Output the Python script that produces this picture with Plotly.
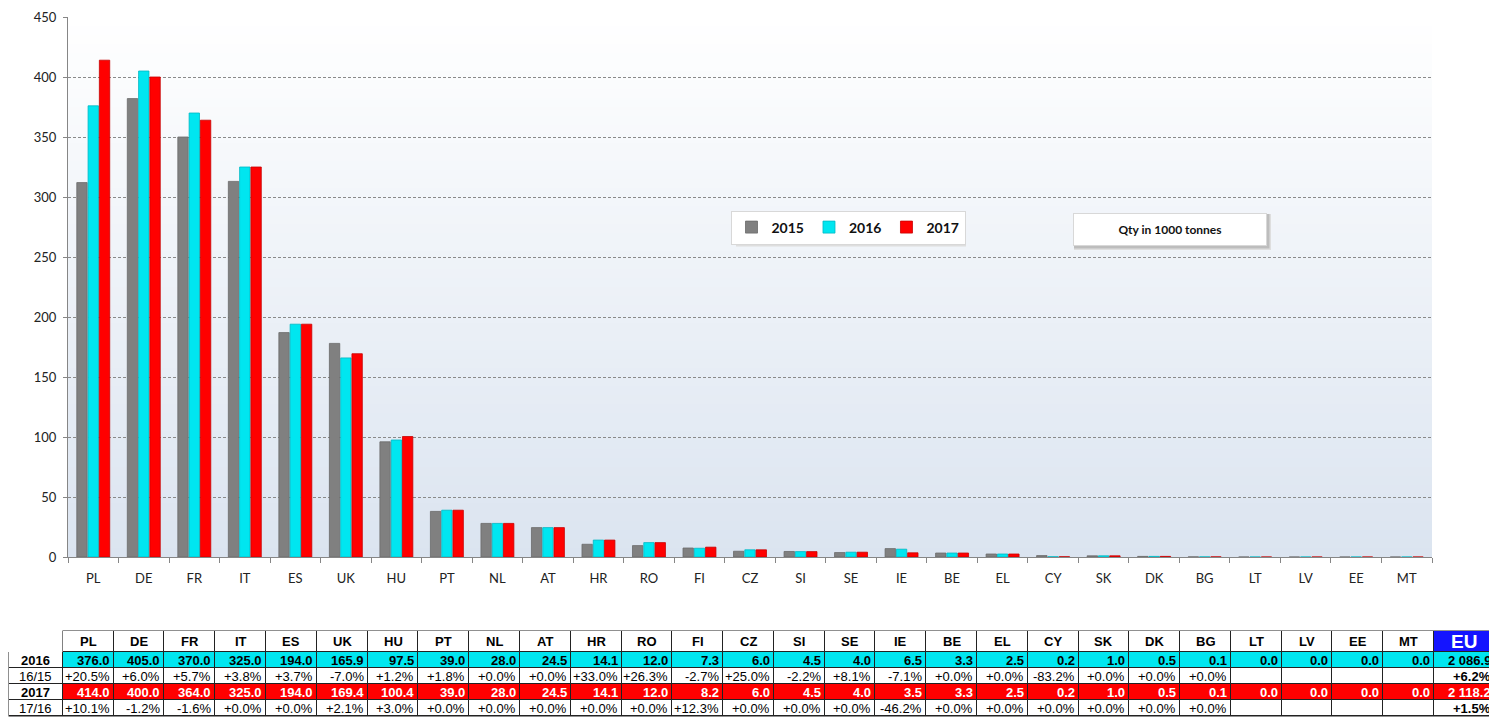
import plotly.graph_objects as go

countries = ["PL", "DE", "FR", "IT", "ES", "UK", "HU", "PT", "NL", "AT", "HR", "RO", "FI", "CZ",
             "SI", "SE", "IE", "BE", "EL", "CY", "SK", "DK", "BG", "LT", "LV", "EE", "MT"]

qty_2015 = [312, 382, 350, 313, 187, 178, 96, 38, 28, 24.5, 10.6, 9.5, 7.5, 4.8,
            4.6, 3.7, 7.0, 3.3, 2.5, 1.2, 1.0, 0.5, 0.1, 0, 0, 0, 0]
qty_2016 = [376.0, 405.0, 370.0, 325.0, 194.0, 165.9, 97.5, 39.0, 28.0, 24.5, 14.1, 12.0, 7.3, 6.0,
            4.5, 4.0, 6.5, 3.3, 2.5, 0.2, 1.0, 0.5, 0.1, 0.0, 0.0, 0.0, 0.0]
qty_2017 = [414.0, 400.0, 364.0, 325.0, 194.0, 169.4, 100.4, 39.0, 28.0, 24.5, 14.1, 12.0, 8.2, 6.0,
            4.5, 4.0, 3.5, 3.3, 2.5, 0.2, 1.0, 0.5, 0.1, 0.0, 0.0, 0.0, 0.0]

chg_16_15 = ["+20.5%", "+6.0%", "+5.7%", "+3.8%", "+3.7%", "-7.0%", "+1.2%", "+1.8%", "+0.0%",
             "+0.0%", "+33.0%", "+26.3%", "-2.7%", "+25.0%", "-2.2%", "+8.1%", "-7.1%", "+0.0%",
             "+0.0%", "-83.2%", "+0.0%", "+0.0%", "+0.0%", "", "", "", ""]
chg_17_16 = ["+10.1%", "-1.2%", "-1.6%", "+0.0%", "+0.0%", "+2.1%", "+3.0%", "+0.0%", "+0.0%",
             "+0.0%", "+0.0%", "+0.0%", "+12.3%", "+0.0%", "+0.0%", "+0.0%", "-46.2%", "+0.0%",
             "+0.0%", "+0.0%", "+0.0%", "+0.0%", "+0.0%", "", "", "", ""]

row_labels = ["2016", "16/15", "2017", "17/16"]
eu_2016 = 2086.9
eu_2017 = 2118.2
eu_16_15 = "+6.2%"
eu_17_16 = "+1.5%"

GRAY = "#808080"
CYAN = "#00e6f0"
RED = "#ff0000"
BLUE = "#1414ff"

# page has an 8px body margin, so the figure is placed at (8, 8) of the window
OFF = 8
FW, FH = 1489, 713


def fx(x):
    return (x - OFF) / FW


def fy(y):
    return 1 - (y - OFF) / FH


def fmt(v):
    return f"{v:,.1f}".replace(",", "\u00a0")


fig = go.Figure()
for name, vals, col, edge in [("2015", qty_2015, GRAY, "#6a6a6a"),
                              ("2016", qty_2016, CYAN, "#00b8c4"),
                              ("2017", qty_2017, RED, "#c80000")]:
    fig.add_trace(go.Bar(x=countries, y=vals, name=name,
                         marker=dict(color=col, line=dict(color=edge, width=0.8))))

# gradient background of the plot area
n = 60
for i in range(n):
    t = (i + 0.5) / n
    r = round(255 - t * (255 - 219))
    g = round(255 - t * (255 - 228))
    b = round(255 - t * (255 - 240))
    fig.add_shape(type="rect", xref="x domain", yref="y domain", x0=0, x1=1,
                  y0=1 - (i + 1) / n, y1=1 - i / n, layer="below",
                  line_width=0, fillcolor=f"rgb({r},{g},{b})")

# soft shadows behind the legend and the note box
for (x0, x1, y0, y1) in [(735, 962, 212.5, 242.5), (1073, 1267, 213, 246)]:
    fig.add_shape(type="rect", xref="paper", yref="paper", x0=fx(x0 + 1), x1=fx(x1 + 4),
                  y0=fy(y1 + 4), y1=fy(y0 + 1), line_width=0, fillcolor="#dedede")
    fig.add_shape(type="rect", xref="paper", yref="paper", x0=fx(x0 + 1), x1=fx(x1 + 2.5),
                  y0=fy(y1 + 2.5), y1=fy(y0 + 1), line_width=0, fillcolor="#bdbdbd")

fig.add_annotation(xref="paper", yref="paper", x=fx(1170), y=fy(229.5),
                   xanchor="center", yanchor="middle",
                   text="<b>Qty in 1000 tonnes</b>", showarrow=False,
                   width=190, height=29, bgcolor="white", bordercolor="#d8d8d8", borderwidth=1,
                   font=dict(family="Lato, Carlito, sans-serif", size=12, color="#111"))

# ---- table below the chart, drawn on its own axes ----
col_w = [54] + [50.85] * len(countries) + [61]
row_h = [21, 16, 16, 16, 16]
x_edges = [0]
for w in col_w:
    x_edges.append(x_edges[-1] + w)
y_edges = [0]
for h in row_h:
    y_edges.append(y_edges[-1] + h)
ncol = len(col_w)

# fill codes: 0 white, 1 cyan, 2 red, 3 blue
z = [[0] * (ncol - 1) + [3],
     [0] + [1] * (ncol - 1),
     [0] * ncol,
     [0] + [2] * (ncol - 1),
     [0] * ncol]
fig.add_trace(go.Heatmap(
    x=x_edges, y=y_edges, z=z, xaxis="x2", yaxis="y2", zmin=0, zmax=3,
    colorscale=[[0, "white"], [1 / 6, "white"], [1 / 6, CYAN], [3 / 6, CYAN],
                [3 / 6, RED], [5 / 6, RED], [5 / 6, BLUE], [1, BLUE]],
    showscale=False, xgap=1, ygap=1, hoverinfo="skip"))

fig.add_shape(type="rect", xref="x2", yref="y2", x0=x_edges[1] - 0.5, x1=x_edges[-1] + 0.5,
              y0=-0.5, y1=y_edges[1], layer="below", line_width=0, fillcolor="#222")
fig.add_shape(type="rect", xref="x2", yref="y2", x0=-0.5, x1=x_edges[-1] + 0.5,
              y0=y_edges[1], y1=y_edges[-1] + 0.5, layer="below", line_width=0, fillcolor="#222")

TFONT = "Liberation Sans, Arial, sans-serif"


def cell_text(col, row, text, color="black", size=13, align="right"):
    yc = (y_edges[row] + y_edges[row + 1]) / 2
    if align == "right":
        xpos, anchor = x_edges[col + 1] - 2, "right"
    else:
        xpos, anchor = (x_edges[col] + x_edges[col + 1]) / 2, "center"
    fig.add_annotation(xref="x2", yref="y2", x=xpos, y=yc, text=text, showarrow=False,
                       xanchor=anchor, yanchor="middle",
                       font=dict(family=TFONT, size=size, color=color))


for j, c in enumerate(countries):
    cell_text(j + 1, 0, f"<b>{c}</b>", align="center")
cell_text(ncol - 1, 0, "<b>EU</b>", color="white", size=19, align="center")
for i, lab in enumerate(row_labels):
    txt = f"<b>{lab}</b>" if i % 2 == 0 else lab
    cell_text(0, i + 1, txt, align="center")
for j in range(len(countries)):
    cell_text(j + 1, 1, f"<b>{qty_2016[j]:.1f}</b>")
    cell_text(j + 1, 2, chg_16_15[j])
    cell_text(j + 1, 3, f"<b>{qty_2017[j]:.1f}</b>", color="white")
    cell_text(j + 1, 4, chg_17_16[j])
cell_text(ncol - 1, 1, f"<b>{fmt(eu_2016)}</b>")
cell_text(ncol - 1, 2, f"<b>{eu_16_15}</b>")
cell_text(ncol - 1, 3, f"<b>{fmt(eu_2017)}</b>", color="white")
cell_text(ncol - 1, 4, f"<b>{eu_17_16}</b>")

fig.update_layout(
    width=FW, height=FH, autosize=False,
    margin=dict(l=0, r=0, t=0, b=0),
    paper_bgcolor="white", plot_bgcolor="rgba(0,0,0,0)",
    barmode="group", bargap=0.33, bargroupgap=0.08,
    font=dict(family="Lato, Carlito, sans-serif", size=13, color="#222"),
    legend=dict(orientation="h", x=fx(848), y=fy(227.5), xanchor="center", yanchor="middle",
                bgcolor="white", bordercolor="#d8d8d8", borderwidth=1,
                font=dict(size=14, color="#111", weight="bold"), itemwidth=30),
    xaxis=dict(domain=[fx(68), fx(1432)], showline=True, linecolor="#868686", automargin=False,
               ticks="outside", tickson="boundaries", ticklen=5, tickcolor="#868686",
               ticklabelstandoff=9, showgrid=False),
    yaxis=dict(domain=[fy(557), fy(17)], range=[0, 450], dtick=50, showline=True,
               linecolor="#868686", ticks="outside", ticklen=4, tickcolor="#868686",
               gridcolor="#8a8a8a", griddash="3px,2px", gridwidth=1, zeroline=False,
               ticklabelstandoff=4, automargin=False),
    xaxis2=dict(domain=[0, x_edges[-1] / FW], range=[-1, x_edges[-1] + 1], visible=False,
                fixedrange=True),
    yaxis2=dict(domain=[fy(717), fy(630)], range=[y_edges[-1] + 1, -1], visible=False,
                fixedrange=True),
)

fig.write_html("out.html")
